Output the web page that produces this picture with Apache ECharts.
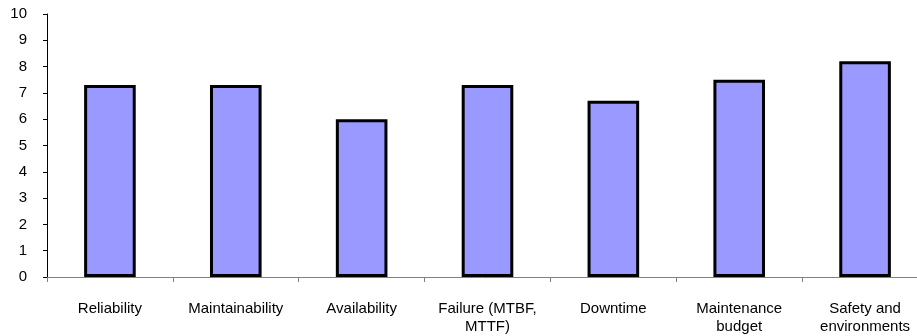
<!DOCTYPE html>
<html>
<head>
<meta charset="utf-8">
<style>
  html, body { margin: 0; padding: 0; background: #ffffff; overflow: hidden; }
  #chart { width: 917px; height: 336px; }
</style>
<script src="https://cdn.jsdelivr.net/npm/echarts@6/dist/echarts.min.js"></script>
</head>
<body>
<div id="chart"></div>
<script>
// Category names shown under the bars
const categories = [
  'Reliability',
  'Maintainability',
  'Availability',
  'Failure (MTBF,\nMTTF)',
  'Downtime',
  'Maintenance\nbudget',
  'Safety and\nenvironments'
];

// Score for each category
const scores = [7.3, 7.3, 6.0, 7.3, 6.7, 7.5, 8.2];

// Value axis range
const yMin = 0;
const yMax = 10;
const yStep = 1;

const fontFamily = '"Liberation Sans", Arial, sans-serif';

const chart = echarts.init(document.getElementById('chart'), null, { renderer: 'canvas' });

chart.setOption({
  animation: false,
  backgroundColor: '#ffffff',
  textStyle: { fontFamily: fontFamily },
  // the plot area runs a little past the right edge of the canvas
  grid: {
    left: 47, top: 14, width: 881, height: 263,
    containLabel: false,
    outerBoundsMode: 'none'
  },
  xAxis: {
    type: 'category',
    data: categories,
    axisLine: { show: true, lineStyle: { color: '#808080', width: 1 } },
    axisTick: { show: true, alignWithLabel: false, length: 5, lineStyle: { color: '#808080' } },
    axisLabel: {
      color: '#000000',
      fontSize: 15,
      margin: 23,
      lineHeight: 18,
      interval: 0,
      fontFamily: fontFamily
    },
    splitLine: { show: false }
  },
  yAxis: {
    type: 'value',
    min: yMin,
    max: yMax,
    interval: yStep,
    axisLine: { show: true, lineStyle: { color: '#000000', width: 1 } },
    axisTick: { show: true, length: 4, lineStyle: { color: '#000000' } },
    axisLabel: {
      color: '#000000',
      fontSize: 15,
      margin: 20,
      fontFamily: fontFamily
    },
    splitLine: { show: false }
  },
  series: [{
    type: 'bar',
    data: scores,
    barWidth: '41%',
    itemStyle: {
      color: '#9999ff',
      borderColor: '#000000',
      borderWidth: 3
    }
  }]
});
</script>
</body>
</html>
